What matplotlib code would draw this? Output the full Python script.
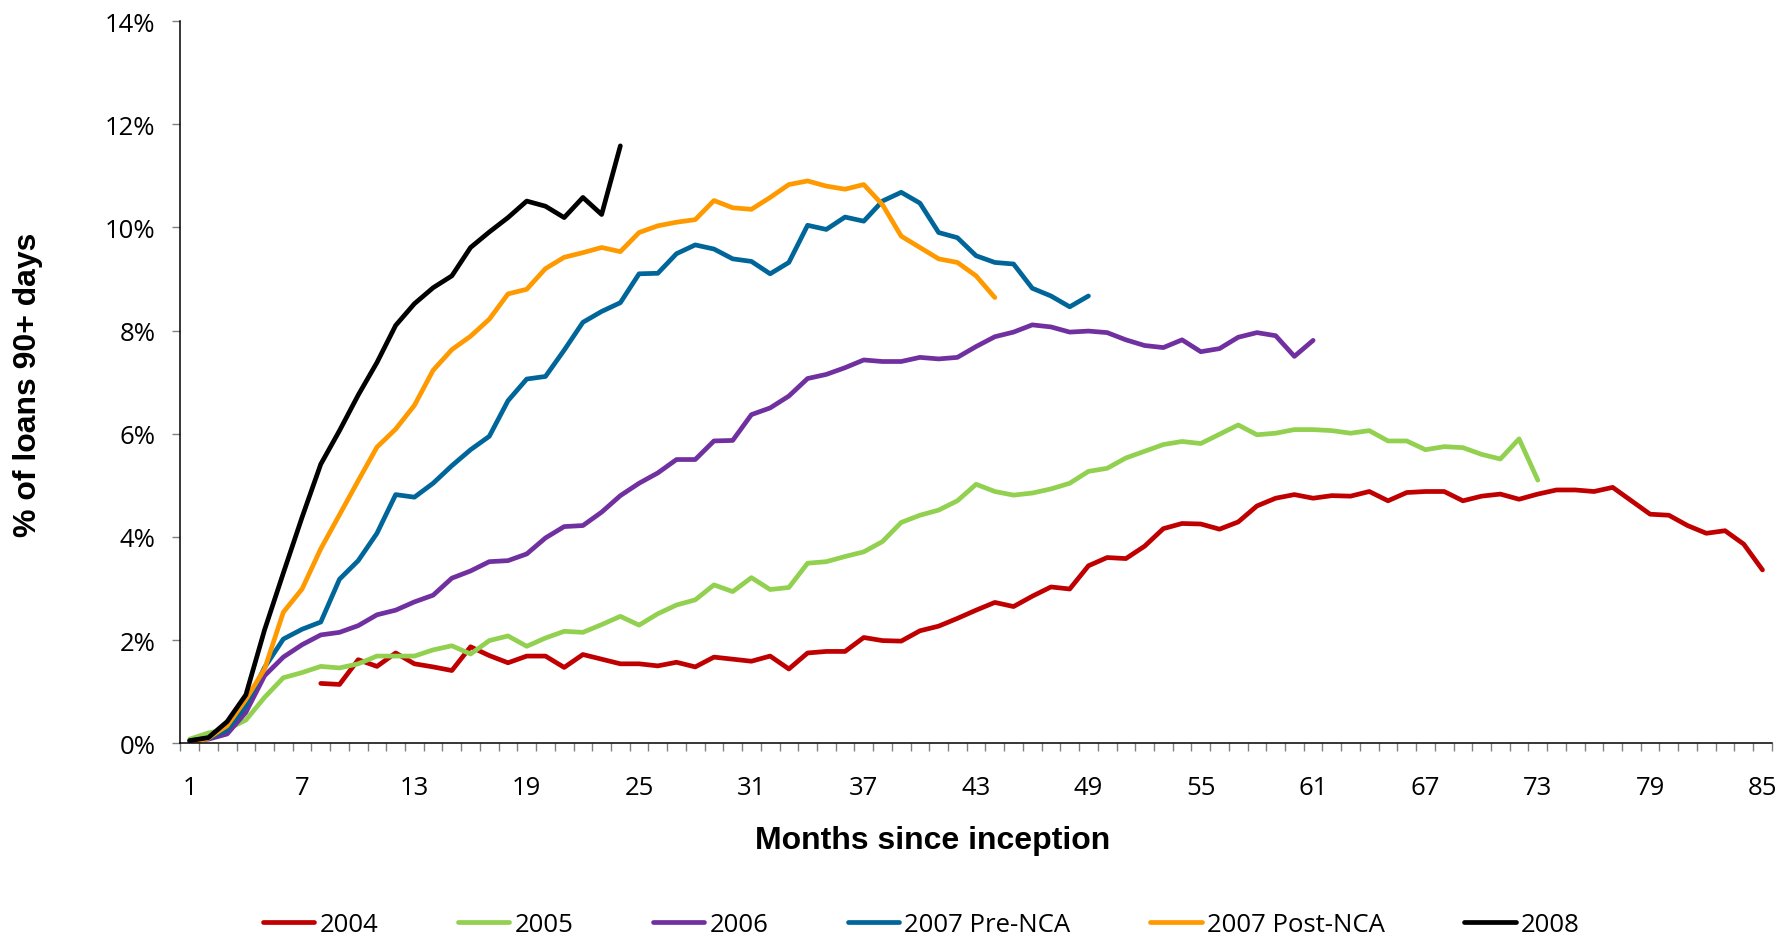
import matplotlib
matplotlib.use("Agg")
import matplotlib.pyplot as plt
import numpy as np

# % of loans 90+ days in arrears, by vintage, per month since inception
start_2004 = 8
pct_2004 = [1.16, 1.14, 1.62, 1.49, 1.75, 1.54, 1.48, 1.41, 1.87, 1.70,
            1.56, 1.69, 1.69, 1.47, 1.72, 1.63, 1.54, 1.54, 1.50, 1.57,
            1.48, 1.67, 1.63, 1.59, 1.69, 1.44, 1.75, 1.78, 1.78, 2.05,
            1.99, 1.98, 2.18, 2.27, 2.42, 2.58, 2.73, 2.65, 2.85, 3.03,
            2.99, 3.44, 3.60, 3.58, 3.82, 4.16, 4.26, 4.25, 4.15, 4.29,
            4.60, 4.75, 4.82, 4.75, 4.80, 4.79, 4.88, 4.70, 4.86, 4.88,
            4.88, 4.70, 4.79, 4.83, 4.73, 4.83, 4.91, 4.91, 4.88, 4.96,
            4.70, 4.44, 4.42, 4.22, 4.07, 4.12, 3.86, 3.36]

start_2005 = 1
pct_2005 = [0.08, 0.20, 0.27, 0.45, 0.89, 1.27, 1.37, 1.49, 1.46, 1.54,
            1.69, 1.69, 1.69, 1.81, 1.89, 1.73, 1.99, 2.08, 1.88, 2.04,
            2.17, 2.15, 2.30, 2.46, 2.29, 2.51, 2.68, 2.78, 3.07, 2.94,
            3.21, 2.98, 3.02, 3.49, 3.52, 3.62, 3.71, 3.91, 4.28, 4.42,
            4.52, 4.70, 5.02, 4.88, 4.81, 4.85, 4.93, 5.04, 5.27, 5.33,
            5.53, 5.66, 5.79, 5.85, 5.81, 5.99, 6.17, 5.98, 6.01, 6.08,
            6.08, 6.06, 6.01, 6.06, 5.86, 5.86, 5.69, 5.75, 5.73, 5.60,
            5.51, 5.90, 5.10]

start_2006 = 1
pct_2006 = [0.05, 0.08, 0.18, 0.60, 1.31, 1.67, 1.91, 2.10, 2.15, 2.28,
            2.49, 2.58, 2.74, 2.87, 3.20, 3.34, 3.52, 3.54, 3.67, 3.98,
            4.20, 4.22, 4.48, 4.80, 5.04, 5.24, 5.50, 5.50, 5.86, 5.87,
            6.37, 6.50, 6.73, 7.07, 7.15, 7.28, 7.43, 7.40, 7.40, 7.48,
            7.45, 7.48, 7.69, 7.88, 7.97, 8.11, 8.07, 7.97, 7.99, 7.96,
            7.82, 7.71, 7.67, 7.82, 7.59, 7.65, 7.87, 7.96, 7.90, 7.50,
            7.81]

start_2007_pre = 1
pct_2007_pre = [0.05, 0.10, 0.26, 0.73, 1.47, 2.02, 2.21, 2.35, 3.18, 3.54,
                4.07, 4.82, 4.77, 5.04, 5.38, 5.69, 5.95, 6.64, 7.06, 7.11,
                7.62, 8.16, 8.37, 8.54, 9.10, 9.11, 9.49, 9.66, 9.58, 9.39,
                9.34, 9.10, 9.32, 10.04, 9.96, 10.20, 10.12, 10.51, 10.68, 10.47,
                9.90, 9.80, 9.45, 9.32, 9.29, 8.82, 8.67, 8.46, 8.67]

start_2007_post = 1
pct_2007_post = [0.00, 0.10, 0.34, 0.85, 1.44, 2.54, 2.99, 3.77, 4.43, 5.09,
                 5.74, 6.09, 6.55, 7.23, 7.63, 7.89, 8.22, 8.71, 8.80, 9.20,
                 9.42, 9.51, 9.61, 9.53, 9.90, 10.03, 10.10, 10.15, 10.52, 10.38,
                 10.35, 10.58, 10.83, 10.90, 10.80, 10.74, 10.83, 10.44, 9.83, 9.61,
                 9.39, 9.32, 9.06, 8.64]

start_2008 = 1
pct_2008 = [0.05, 0.11, 0.42, 0.94, 2.20, 3.30, 4.38, 5.41, 6.06, 6.75,
            7.38, 8.10, 8.52, 8.83, 9.06, 9.61, 9.91, 10.19, 10.51, 10.41,
            10.19, 10.58, 10.25, 11.58]

names = ["2004", "2005", "2006", "2007 Pre-NCA", "2007 Post-NCA", "2008"]
starts = [start_2004, start_2005, start_2006, start_2007_pre, start_2007_post, start_2008]
values = [pct_2004, pct_2005, pct_2006, pct_2007_pre, pct_2007_post, pct_2008]
colors = ["#C00000", "#92D050", "#7030A0", "#006699", "#FF9900", "#000000"]

n_months = 85
y_ticks = [0, 2, 4, 6, 8, 10, 12, 14]
x_labels = list(range(1, n_months + 1, 6))

tick_font = "Open Sans"
label_font = "Liberation Sans"

fig = plt.figure(figsize=(17.91, 9.37), dpi=100)
ax = fig.add_axes([0.1007, 0.2057, 0.8886, 0.7708])

for name, first, vals, col in zip(names, starts, values, colors):
    months = np.arange(first, first + len(vals))
    ax.plot(months, vals, color=col, lw=3.4, label=name,
            solid_capstyle="round", solid_joinstyle="round")

ax.set_xlim(0.5, n_months + 0.5)
ax.set_ylim(0, 14)

ax.set_yticks(y_ticks)
ax.set_yticklabels([f"{v}%" for v in y_ticks], fontfamily=tick_font, fontsize=18.5)
ax.tick_params(axis="y", length=6, width=1, color="#808080", pad=12)

# labels every 6 months, tick marks between every month
ax.set_xticks(x_labels)
ax.set_xticklabels([str(m) for m in x_labels], fontfamily=tick_font, fontsize=18.5)
ax.set_xticks(np.arange(0.5, n_months + 1), minor=True)
ax.tick_params(axis="x", which="major", length=0, pad=22.5)
ax.tick_params(axis="x", which="minor", length=6, width=1, color="#808080")

for side in ["top", "right"]:
    ax.spines[side].set_visible(False)
for side in ["left", "bottom"]:
    ax.spines[side].set_linewidth(1.1)
    ax.spines[side].set_color("black")

fig.text(0.5207, 0.1025, "Months since inception", ha="center", va="center",
         fontfamily=label_font, fontweight="bold", fontsize=23)
fig.text(0.0159, 0.589, "% of loans 90+ days", ha="center", va="center",
         rotation=90, fontfamily=label_font, fontweight="bold", fontsize=23)

fig.legend(loc="center", bbox_to_anchor=(0.5144, 0.012), ncol=6, frameon=False,
           prop={"family": tick_font, "size": 18.5}, handlelength=2.0,
           handletextpad=0.2, columnspacing=3.1, borderaxespad=0)

fig.savefig("out.png", dpi=100)
